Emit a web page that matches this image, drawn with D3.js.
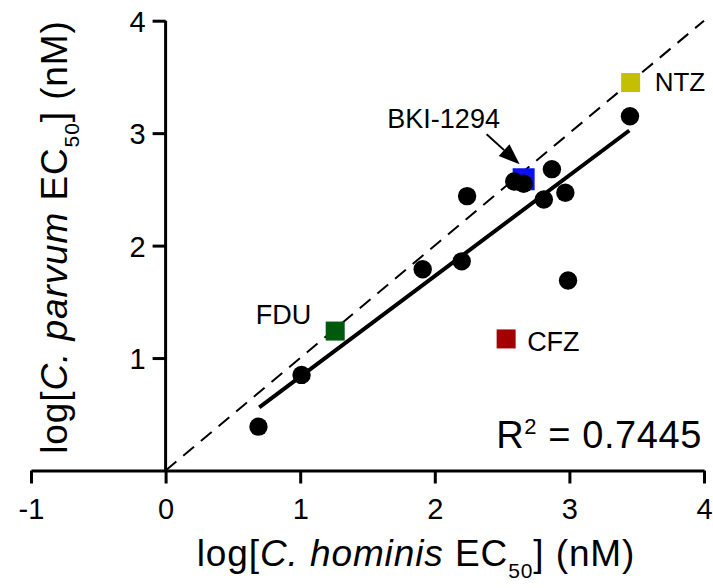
<!DOCTYPE html>
<html>
<head>
<meta charset="utf-8">
<script src="https://cdn.jsdelivr.net/npm/d3@7"></script>
<style>
  html, body { margin: 0; padding: 0; background: #fff; }
  svg { display: block; font-family: "Liberation Sans", Arial, sans-serif; }
</style>
</head>
<body>
<div id="chart"></div>
<script>
// Pontos (log EC50): C. hominis (x) vs C. parvum (y)
const hominisX = [0.69, 1.01, 1.91, 2.20, 2.24, 2.59, 2.66, 2.81, 2.87, 2.97, 2.99, 3.45];
const parvumY  = [0.39, 0.85, 1.79, 1.86, 2.44, 2.57, 2.55, 2.41, 2.68, 2.47, 1.69, 3.15];

// Compostos destacados
const namedLabels = ['BKI-1294', 'NTZ', 'FDU', 'CFZ'];
const namedX      = [2.66, 3.455, 1.26, 2.53];
const namedY      = [2.59, 3.45, 1.24, 1.17];
const namedColors = ['#0a10f0', '#c4bf00', '#005a0c', '#a30000'];

// Regressão linear
const fitSlope = 0.896;
const fitIntercept = -0.063;
const fitRange = [0.696, 3.445];
const rSquared = '0.7445';

// Eixos
const xTicks = [-1, 0, 1, 2, 3, 4];
const yTicks = [1, 2, 3, 4];

const width = 713, height = 588;
const x = d3.scaleLinear().domain([-1, 4]).range([31, 704]);
const y = d3.scaleLinear().domain([0, 4]).range([470.5, 20.7]);

const svg = d3.select('#chart').append('svg')
  .attr('width', width)
  .attr('height', height);

// Linha de identidade (tracejada)
svg.append('line')
  .attr('x1', x(0)).attr('y1', y(0))
  .attr('x2', x(4)).attr('y2', y(4))
  .attr('stroke', '#000')
  .attr('stroke-width', 2)
  .attr('stroke-dasharray', '14,9');

// Eixo X (hífen simples, como no original)
const gx = svg.append('g')
  .attr('transform', `translate(0,${y(0)})`)
  .call(d3.axisBottom(x).tickValues(xTicks).tickSize(13).tickSizeOuter(0).tickFormat(d => String(d)));
gx.select('.domain').attr('stroke-width', 3);
gx.selectAll('.tick line').attr('stroke-width', 3);
gx.selectAll('.tick text')
  .attr('y', 48).attr('dy', 0)
  .style('font-size', '29px')
  .attr('fill', '#000');

// Eixo Y
const gy = svg.append('g')
  .attr('transform', `translate(${x(0)},0)`)
  .call(d3.axisLeft(y).tickValues(yTicks).tickSize(13).tickSizeOuter(0).tickFormat(d => String(d)));
gy.select('.domain').attr('stroke-width', 3).attr('d', `M0,${y(0)}V${y(4)}`);
gy.selectAll('.tick line').attr('stroke-width', 3);
gy.selectAll('.tick text')
  .attr('x', -20).attr('dy', '0.36em')
  .style('font-size', '29px')
  .attr('fill', '#000');

// Quadrado azul do BKI-1294 fica por baixo dos pontos
const named = namedLabels.map((name, i) => ({ name, x: namedX[i], y: namedY[i], color: namedColors[i] }));
const sq = d => (d.name === 'BKI-1294' ? 22 : 19);

svg.selectAll('.named')
  .data(named)
  .enter()
  .append('rect')
  .attr('class', 'named')
  .attr('x', d => x(d.x) - sq(d) / 2)
  .attr('y', d => y(d.y) - sq(d) / 2)
  .attr('width', sq)
  .attr('height', sq)
  .attr('fill', d => d.color);

// Reta de regressão
svg.append('line')
  .attr('x1', x(fitRange[0])).attr('y1', y(fitSlope * fitRange[0] + fitIntercept))
  .attr('x2', x(fitRange[1])).attr('y2', y(fitSlope * fitRange[1] + fitIntercept))
  .attr('stroke', '#000')
  .attr('stroke-width', 4);

// Pontos
svg.selectAll('.dot')
  .data(hominisX.map((v, i) => [v, parvumY[i]]))
  .enter()
  .append('circle')
  .attr('class', 'dot')
  .attr('cx', d => x(d[0]))
  .attr('cy', d => y(d[1]))
  .attr('r', 9.2)
  .attr('fill', '#000');

// Rótulos dos compostos
const labelPos = {
  'BKI-1294': { dx: -80, dy: -51, anchor: 'middle' },
  'NTZ': { dx: 24, dy: 8, anchor: 'start' },
  'FDU': { dx: -24, dy: -7, anchor: 'end' },
  'CFZ': { dx: 21, dy: 12, anchor: 'start' }
};
svg.selectAll('.label')
  .data(named)
  .enter()
  .append('text')
  .attr('x', d => x(d.x) + labelPos[d.name].dx)
  .attr('y', d => y(d.y) + labelPos[d.name].dy)
  .attr('text-anchor', d => labelPos[d.name].anchor)
  .style('font-size', d => (d.name === 'NTZ' ? '26px' : '27px'))
  .text(d => d.name);

// Seta para o BKI-1294
const bki = named[0];
const ax0 = x(bki.x) - 37, ay0 = y(bki.y) - 45;
const ax1 = x(bki.x) - 4, ay1 = y(bki.y) - 15;
const ang = Math.atan2(ay1 - ay0, ax1 - ax0);
const headLen = 21, headW = 8;
const bx = ax1 - headLen * Math.cos(ang), by = ay1 - headLen * Math.sin(ang);
svg.append('line')
  .attr('x1', ax0).attr('y1', ay0).attr('x2', bx).attr('y2', by)
  .attr('stroke', '#000').attr('stroke-width', 2);
svg.append('path')
  .attr('d', `M${ax1},${ay1}L${bx - headW * Math.sin(ang)},${by + headW * Math.cos(ang)}L${bx + headW * Math.sin(ang)},${by - headW * Math.cos(ang)}Z`)
  .attr('fill', '#000');

// R²
const r2 = svg.append('text')
  .attr('x', 702).attr('y', 448)
  .attr('text-anchor', 'end')
  .style('font-size', '38px')
  .style('letter-spacing', '0.6px');
r2.append('tspan').text('R');
r2.append('tspan').attr('dy', -14).style('font-size', '22px').text('2');
r2.append('tspan').attr('dy', 14).text(' = ' + rSquared);

// Títulos dos eixos
function axisTitle(sel, species) {
  sel.append('tspan').text('log[');
  sel.append('tspan').style('font-style', 'italic').text('C. ' + species);
  sel.append('tspan').text(' EC');
  sel.append('tspan').attr('dy', 12).style('font-size', '21px').text('50');
  sel.append('tspan').attr('dy', -12).text('] (nM)');
}

const xt = svg.append('text')
  .attr('x', 416).attr('y', 566)
  .attr('text-anchor', 'middle')
  .style('font-size', '37px')
  .style('letter-spacing', '0.9px');
axisTitle(xt, 'hominis');

const yt = svg.append('text')
  .attr('transform', 'translate(67,237) rotate(-90)')
  .attr('text-anchor', 'middle')
  .style('font-size', '37px')
  .style('letter-spacing', '0.9px');
axisTitle(yt, 'parvum');
</script>
</body>
</html>
